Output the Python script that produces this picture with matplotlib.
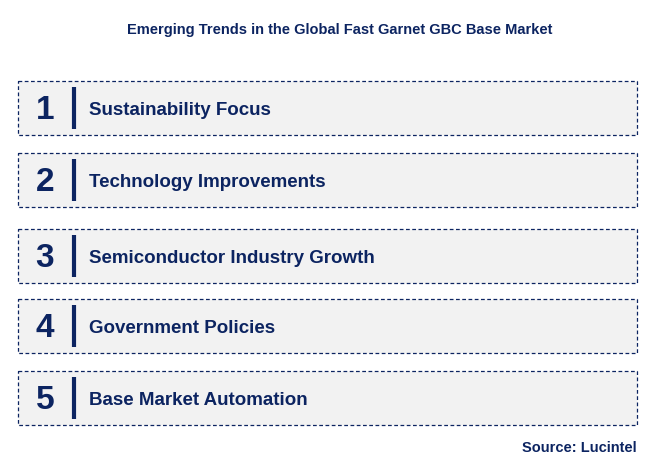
import matplotlib.pyplot as plt
from matplotlib.patches import Rectangle

title = "Emerging Trends in the Global Fast Garnet GBC Base Market"
numbers = ["1", "2", "3", "4", "5"]
trends = ["Sustainability Focus", "Technology Improvements",
          "Semiconductor Industry Growth", "Government Policies",
          "Base Market Automation"]
source = "Source: Lucintel"

navy = "#0c2461"
box_top = [81, 153, 229, 299, 371]
box_h = 54

fig = plt.figure(figsize=(6.59, 4.65), dpi=100)
ax = fig.add_axes([0, 0, 1, 1])
ax.set_xlim(0, 659)
ax.set_ylim(465, 0)
ax.axis("off")

ax.text(340, 30, title, ha="center", va="center", fontsize=10.5,
        fontweight="bold", color=navy, family="Liberation Sans")

for y, n, t in zip(box_top, numbers, trends):
    ax.add_patch(Rectangle((18, y), 619, box_h, facecolor="#f2f2f2",
                           edgecolor=navy, linestyle=(0, (3, 2)), linewidth=0.9))
    cy = y + box_h / 2
    ax.text(45, cy + 2, n, ha="center", va="center", fontsize=24,
            fontweight="bold", color=navy, family="Liberation Sans")
    ax.plot([74, 74], [y + 6, y + box_h - 6], color=navy, linewidth=3,
            solid_capstyle="butt")
    ax.text(89, cy + 2, t, ha="left", va="center", fontsize=13.5,
            fontweight="bold", color=navy, family="Liberation Sans")

ax.text(637, 448, source, ha="right", va="center", fontsize=10.5,
        fontweight="bold", color=navy, family="Liberation Sans")

fig.savefig("out.png", dpi=100)
